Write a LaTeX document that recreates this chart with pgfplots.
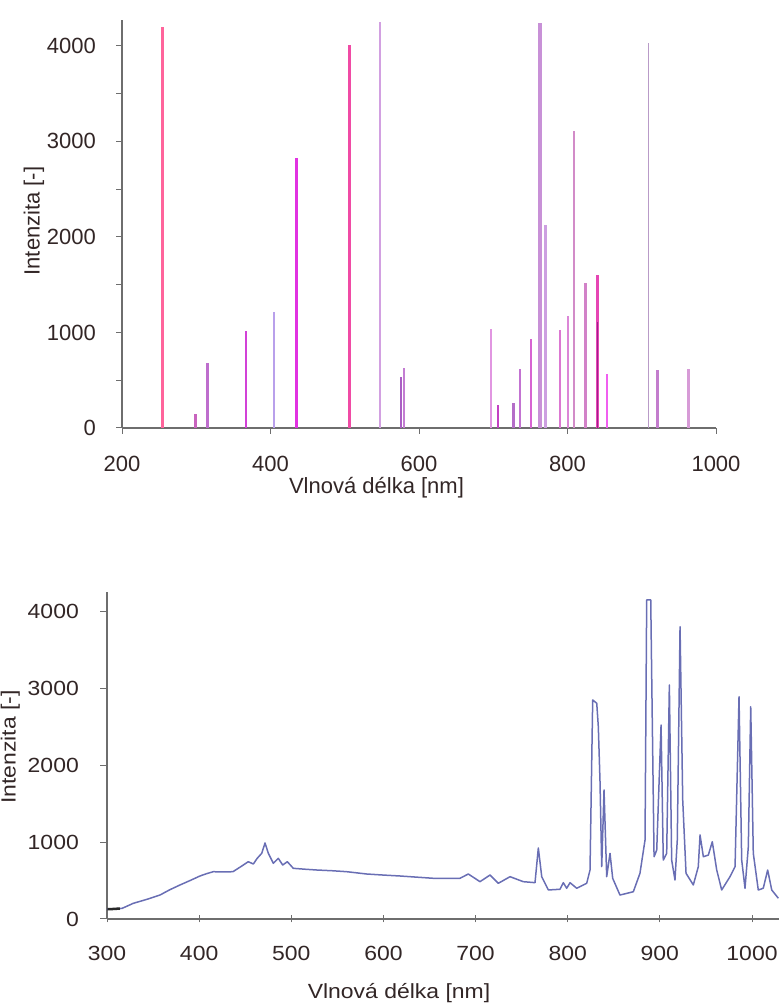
\documentclass[border=0pt]{standalone}
\usepackage{fontspec}
\setmainfont{Liberation Sans}
\newfontfamily\botfamily{Liberation Sans}[FakeStretch=1.12]
\usepackage{pgfplots}
\pgfplotsset{compat=1.18}
\definecolor{axisgray}{RGB}{110,110,110}
\definecolor{labelcol}{RGB}{50,38,38}
\definecolor{specline}{RGB}{105,110,180}
\newcommand{\topfont}{\fontsize{22bp}{26bp}\selectfont}
\newcommand{\botfont}{\botfamily\fontsize{20.5bp}{24bp}\selectfont}

\pgfplotstableread{
wl val
300 130
303.3 128
316.3 138
328.5 204
343.0 255
357.5 312
368.0 380
379.2 443
390.0 500
400.9 560
408.0 590
415.4 616
426.0 612
436.7 616
445.0 680
453.3 746
458.8 716
463.0 790
467.9 855
471.5 990
475.1 855
480.5 725
485.9 790
490.7 703
495.7 746
502.2 660
515.0 648
527.6 638
545.0 628
560.1 616
581.8 586
600.0 572
618.0 560
636.0 545
654.1 530
668.0 530
683.1 530
692.1 586
704.8 486
715.7 573
724.7 465
737.4 551
751.8 486
764.5 473
768.1 925
771.8 551
779.0 378
791.6 387
795.2 473
798.9 400
802.5 473
809.8 400
820.6 465
824.2 638
827.1 2852
831.5 2809
833.2 2504
835.0 1810
836.9 681
839.4 1680
842.3 551
845.9 855
848.8 530
856.7 312
871.2 355
878.4 595
883.9 1029
885.7 4154
890.1 4154
891.2 3112
893.7 811
896.6 898
901.3 2526
903.7 768
907.4 855
910.3 3047
912.8 768
916.4 508
918.9 1029
921.9 3806
924.8 1549
928.4 595
936.3 443
941.7 681
943.6 1094
947.2 811
952.6 833
956.9 1006
961.7 638
967.1 378
976.1 551
981.6 681
985.9 2894
988.8 768
992.4 400
996.0 941
998.6 2764
1001.4 855
1006.8 378
1012.2 400
1017.0 638
1021.4 378
1028.6 270
}\spectrum

\begin{document}
\begin{tikzpicture}[x=1bp,y=1bp]
\useasboundingbox (0,0) rectangle (779,1006);

% ---------------- top: line spectrum ----------------
\begin{axis}[
  at={(122bp,578bp)}, anchor=south west,
  scale only axis, width=594bp, height=408bp,
  xmin=200, xmax=1000, ymin=0, ymax=4270,
  axis lines=left,
  axis line style={-, draw=axisgray, line width=1.2bp},
  xtick={200,400,600,800,1000},
  ytick={0,1000,2000,3000,4000},
  minor ytick={500,1500,2500,3500},
  tick align=outside,
  major tick length=6bp, minor tick length=6bp,
  every tick/.style={draw=axisgray, line width=1bp},
  /pgf/number format/assume math mode=true,
  /pgf/number format/set thousands separator={},
  scaled ticks=false,
  ticklabel style={font=\topfont, text=labelcol, inner sep=0pt},
  yticklabel style={anchor=east, xshift=-20bp},
  xticklabel style={anchor=north, yshift=-22bp},
]
\addplot[ycomb, draw={rgb,255:red,255;green,100;blue,155}, line width=3bp] coordinates {(254,4200)};
\addplot[ycomb, draw={rgb,255:red,200;green,100;blue,190}, line width=2.5bp] coordinates {(299,143)};
\addplot[ycomb, draw={rgb,255:red,190;green,110;blue,205}, line width=2.5bp] coordinates {(315,677)};
\addplot[ycomb, draw={rgb,255:red,210;green,65;blue,215}, line width=2.5bp] coordinates {(367,1016)};
\addplot[ycomb, draw={rgb,255:red,185;green,160;blue,235}, line width=2.5bp] coordinates {(405,1218)};
\addplot[ycomb, draw={rgb,255:red,225;green,50;blue,225}, line width=2.5bp] coordinates {(435,2830)};
\addplot[ycomb, draw={rgb,255:red,240;green,75;blue,165}, line width=3bp] coordinates {(506,4010)};
\addplot[ycomb, draw={rgb,255:red,210;green,160;blue,225}, line width=1.8bp] coordinates {(547,4244)};
\addplot[ycomb, draw={rgb,255:red,170;green,95;blue,195}, line width=2.5bp] coordinates {(576,537)};
\addplot[ycomb, draw={rgb,255:red,195;green,125;blue,210}, line width=2.5bp] coordinates {(580,625)};
\addplot[ycomb, draw={rgb,255:red,225;green,150;blue,225}, line width=2bp] coordinates {(696.5,1033)};
\addplot[ycomb, draw={rgb,255:red,195;green,65;blue,195}, line width=2bp] coordinates {(706.8,241)};
\addplot[ycomb, draw={rgb,255:red,180;green,110;blue,200}, line width=3bp] coordinates {(727,258)};
\addplot[ycomb, draw={rgb,255:red,195;green,115;blue,210}, line width=2.5bp] coordinates {(736,614)};
\addplot[ycomb, draw={rgb,255:red,215;green,100;blue,210}, line width=2bp] coordinates {(750.8,932)};
\addplot[ycomb, draw={rgb,255:red,200;green,145;blue,215}, line width=4bp] coordinates {(763,4237)};
\addplot[ycomb, draw={rgb,255:red,205;green,160;blue,225}, line width=3bp] coordinates {(770,2126)};
\addplot[ycomb, draw={rgb,255:red,220;green,120;blue,210}, line width=2bp] coordinates {(790,1026)};
\addplot[ycomb, draw={rgb,255:red,220;green,135;blue,215}, line width=2bp] coordinates {(800.7,1173)};
\addplot[ycomb, draw={rgb,255:red,210;green,140;blue,200}, line width=2bp] coordinates {(808.3,3113)};
\addplot[ycomb, draw={rgb,255:red,210;green,130;blue,200}, line width=3bp] coordinates {(824.5,1522)};
\addplot[ycomb, draw={rgb,255:red,230;green,70;blue,180}, line width=3bp] coordinates {(840,1602)};
\addplot[ycomb, draw={rgb,255:red,160;green,30;blue,140}, line width=1.5bp] coordinates {(840.3,1113)};
\addplot[ycomb, draw={rgb,255:red,240;green,95;blue,240}, line width=2bp] coordinates {(852.8,565)};
\addplot[ycomb, draw={rgb,255:red,185;green,155;blue,200}, line width=1.5bp] coordinates {(908.9,4028)};
\addplot[ycomb, draw={rgb,255:red,195;green,125;blue,205}, line width=3bp] coordinates {(921,607)};
\addplot[ycomb, draw={rgb,255:red,215;green,155;blue,215}, line width=2.5bp] coordinates {(963.2,618)};
\end{axis}
\node[rotate=90, anchor=base, font=\topfont, text=labelcol, inner sep=0pt] at (39.5,785) {Intenzita [-]};
\node[anchor=base, font=\topfont, text=labelcol, inner sep=0pt] at (376.5,512) {Vlnová délka [nm]};

% ---------------- bottom: measured spectrum ----------------
\begin{axis}[
  at={(107bp,87bp)}, anchor=south west,
  scale only axis, width=672bp, height=327.3bp,
  xmin=300, xmax=1029.3, ymin=0, ymax=4262,
  axis lines=left,
  axis line style={-, draw=axisgray, line width=1.4bp},
  xtick={300,400,500,600,700,800,900,1000},
  ytick={0,1000,2000,3000,4000},
  ytick align=outside, xtick align=center,
  major tick length=7bp,
  every tick/.style={draw=axisgray, line width=1bp},
  /pgf/number format/assume math mode=true,
  /pgf/number format/set thousands separator={},
  scaled ticks=false,
  ticklabel style={font=\botfont, text=labelcol, inner sep=0pt},
  yticklabel style={anchor=east, xshift=-21bp},
  xticklabel style={anchor=north, yshift=-23bp},
  clip=false,
]
\addplot[draw=specline, line width=1.5bp, line join=round] table[x=wl, y=val] {\spectrum};
\addplot[draw={rgb,255:red,40;green,40;blue,40}, line width=2.5bp] coordinates {(300.5,130) (303.3,128) (314,136)};
\end{axis}
\node[rotate=90, anchor=base, font=\botfont, text=labelcol, inner sep=0pt] at (15.5,259) {Intenzita [-]};
\node[anchor=base, font=\botfont, text=labelcol, inner sep=0pt] at (399,7.5) {Vlnová délka [nm]};
\end{tikzpicture}
\end{document}
